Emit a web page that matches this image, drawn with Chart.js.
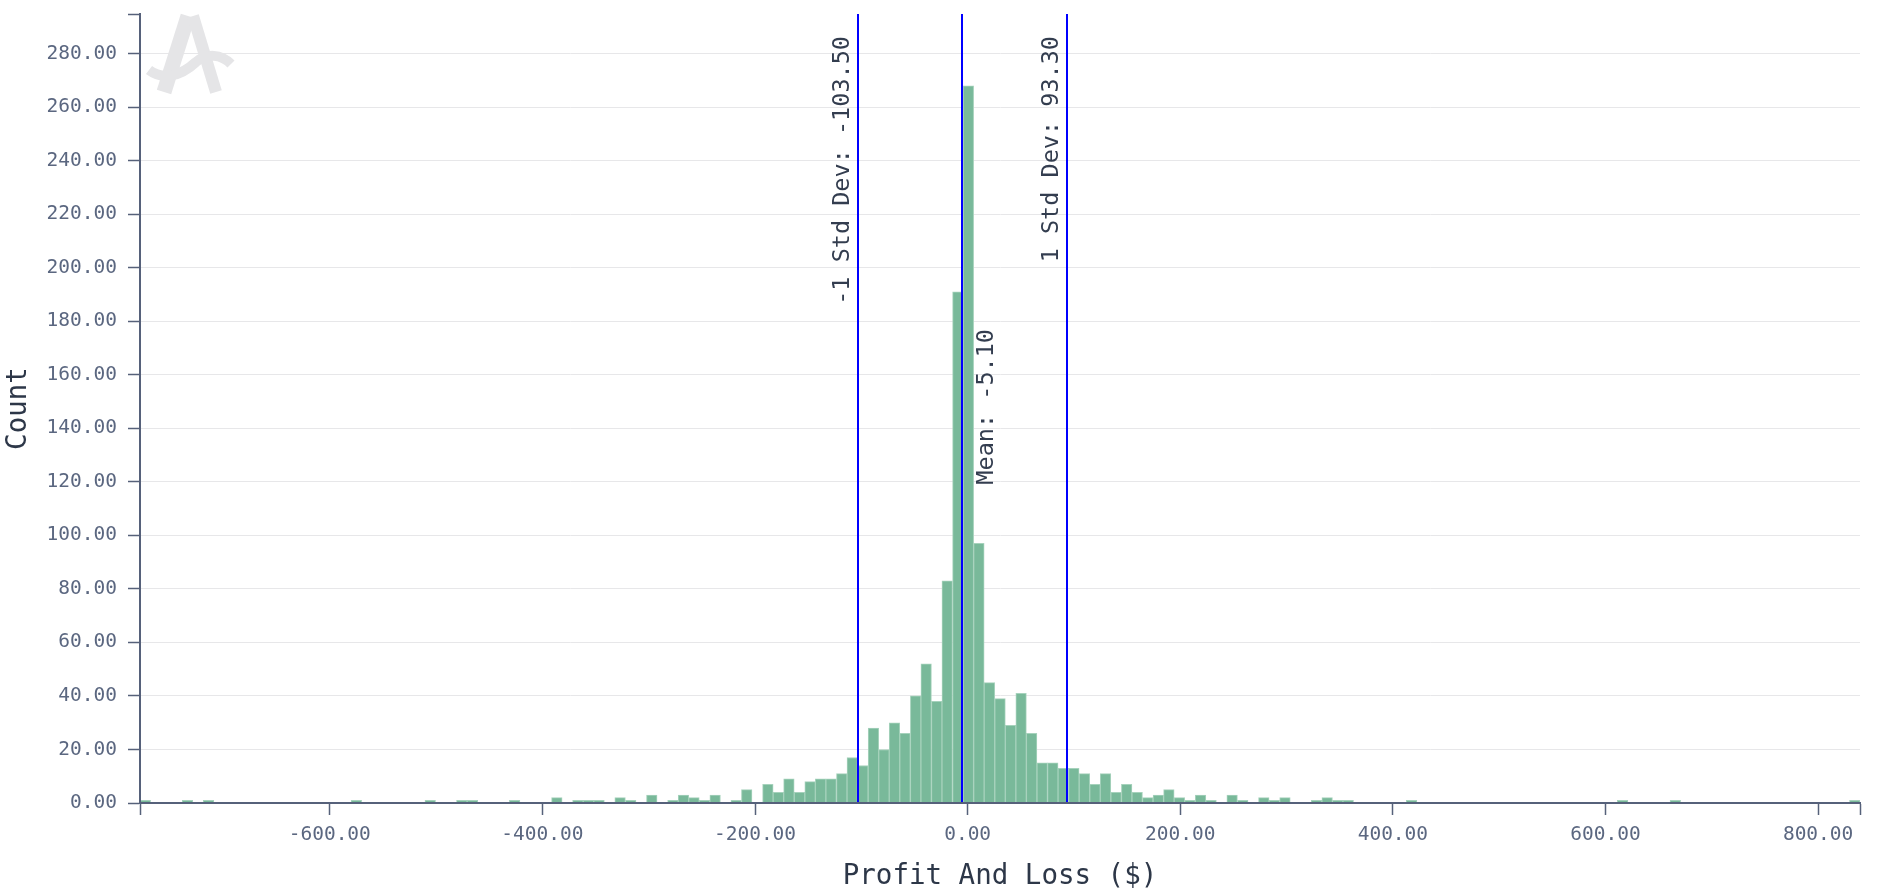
<!DOCTYPE html>
<html>
<head>
<meta charset="utf-8">
<script src="https://cdn.jsdelivr.net/npm/chart.js@4.4.1/dist/chart.umd.min.js"></script>
<style>
  html, body { margin: 0; padding: 0; background: #fff; }
  canvas { display: block; }
</style>
</head>
<body>
<canvas id="chart" width="1896" height="894"></canvas>
<script>
// histogram bins (centre of each non-empty bin) and their counts
const binCenters = [
  -773.5, -733.8, -714.0, -575.0, -505.5, -475.8, -465.8, -426.1, -386.4, -366.6,
  -356.6, -346.7, -326.9, -316.9, -297.1, -277.2, -267.3, -257.4, -247.5, -237.5,
  -217.7, -207.8, -187.9, -178.0, -168.1, -158.1, -148.2, -138.3, -128.4, -118.4,
  -108.5, -98.6, -88.6, -78.7, -68.8, -58.9, -48.9, -39.0, -29.1, -19.2,
  -9.2, 0.7, 10.6, 20.5, 30.5, 40.4, 50.3, 60.2, 70.2, 80.1,
  90.0, 99.9, 109.9, 119.8, 129.7, 139.7, 149.6, 159.5, 169.4, 179.4,
  189.3, 199.2, 209.1, 219.1, 229.0, 248.8, 258.8, 278.6, 288.5, 298.5,
  328.2, 338.2, 348.1, 358.0, 417.6, 616.1, 665.7, 834.5
];
const counts = [
  1, 1, 1, 1, 1, 1, 1, 1, 2, 1,
  1, 1, 2, 1, 3, 1, 3, 2, 1, 3,
  1, 5, 7, 4, 9, 4, 8, 9, 9, 11,
  17, 14, 28, 20, 30, 26, 40, 52, 38, 83,
  191, 268, 97, 45, 39, 29, 41, 26, 15, 15,
  13, 13, 11, 7, 11, 4, 7, 4, 2, 3,
  5, 2, 1, 3, 1, 3, 1, 2, 1, 2,
  1, 2, 1, 1, 1, 1, 1, 1
];

const xRange = [-778.5, 839.4];
const yMax = 294.8;
const xTickValues = [-600, -400, -200, 0, 200, 400, 600, 800];
const yTickValues = [0, 20, 40, 60, 80, 100, 120, 140, 160, 180, 200, 220, 240, 260, 280];

const markerValues = [-103.5, -5.1, 93.3];
const markerLabels = ['-1 Std Dev: -103.50', 'Mean: -5.10', '1 Std Dev: 93.30'];

const MONO = '"DejaVu Sans Mono", monospace';
const axisColor = '#56617a';
const tickText = '#5b6780';
const titleText = '#2d3748';

// label placement next to each line: dx from the line, y of the text end below the top
const markerPlace = [
  { dx: -9, endY: 22 },
  { dx: 31, endY: 315 },
  { dx: -9, endY: 22 }
];

const logoPlugin = {
  id: 'logo',
  beforeDatasetsDraw(chart) {
    const ctx = chart.ctx;
    ctx.save();
    ctx.strokeStyle = '#e5e5e7';
    ctx.lineCap = 'butt';
    ctx.lineWidth = 15;
    ctx.beginPath(); ctx.moveTo(188, 16); ctx.lineTo(164, 92); ctx.stroke();
    ctx.lineWidth = 12;
    ctx.beginPath(); ctx.moveTo(193, 16); ctx.lineTo(216, 92); ctx.stroke();
    ctx.lineWidth = 10;
    ctx.beginPath();
    ctx.moveTo(149, 70);
    ctx.bezierCurveTo(162, 80, 180, 77, 196, 62);
    ctx.bezierCurveTo(207, 53, 221, 54, 231, 64);
    ctx.stroke();
    ctx.restore();
  }
};

const markerPlugin = {
  id: 'markers',
  afterDatasetsDraw(chart) {
    const { ctx, chartArea: a, scales: { x } } = chart;
    ctx.save();
    markerValues.forEach((v, i) => {
      const px = Math.round(x.getPixelForValue(v));
      ctx.strokeStyle = '#0000ff';
      ctx.lineWidth = 2;
      ctx.beginPath();
      ctx.moveTo(px, a.top);
      ctx.lineTo(px, a.bottom);
      ctx.stroke();

      const p = markerPlace[i];
      ctx.save();
      ctx.translate(px + p.dx, a.top + p.endY);
      ctx.rotate(-Math.PI / 2);
      ctx.font = '23.5px ' + MONO;
      ctx.fillStyle = '#333d4f';
      ctx.textAlign = 'right';
      ctx.textBaseline = 'alphabetic';
      ctx.fillText(markerLabels[i], 0, 0);
      ctx.restore();
    });
    ctx.restore();
  }
};

new Chart(document.getElementById('chart'), {
  type: 'bar',
  data: {
    datasets: [{
      label: 'Count',
      data: binCenters.map((c, i) => ({ x: c, y: counts[i] })),
      backgroundColor: '#79b99a',
      borderColor: '#a6d2bc',
      borderWidth: 1,
      barPercentage: 1,
      categoryPercentage: 1
    }]
  },
  options: {
    responsive: false,
    animation: false,
    devicePixelRatio: 1,
    layout: { padding: { top: 14, right: 36, bottom: 0, left: 0 } },
    plugins: {
      legend: { display: false },
      tooltip: { enabled: false }
    },
    scales: {
      x: {
        type: 'linear',
        min: xRange[0],
        max: xRange[1],
        offset: false,
        afterBuildTicks: s => {
          s.ticks = [xRange[0], ...xTickValues, xRange[1]].map(v => ({ value: v }));
        },
        afterFit: s => { s.height = 91; s.paddingLeft = 0; s.paddingRight = 0; },
        grid: {
          offset: false,
          drawOnChartArea: false,
          drawTicks: true,
          tickLength: 12,
          tickColor: axisColor,
          tickWidth: 1.5
        },
        border: { display: true, color: axisColor, width: 2, z: 1 },
        ticks: {
          autoSkip: false,
          maxRotation: 0,
          padding: 8,
          color: tickText,
          font: { family: MONO, size: 19.5 },
          callback: v => xTickValues.includes(v) ? v.toFixed(2) : ''
        },
        title: {
          display: true,
          text: 'Profit And Loss ($)',
          color: titleText,
          font: { family: MONO, size: 27.5 },
          padding: { top: 0, bottom: 1 }
        }
      },
      y: {
        min: 0,
        max: yMax,
        afterBuildTicks: s => {
          s.ticks = [...yTickValues, yMax].map(v => ({ value: v }));
        },
        afterFit: s => { s.width = 140; s.paddingTop = 0; s.paddingBottom = 0; },
        grid: {
          color: ctx => (ctx.tick && ctx.tick.value === yMax) ? 'rgba(0,0,0,0)' : '#e7e7e9',
          lineWidth: 1,
          tickLength: 12,
          tickColor: axisColor,
          tickWidth: 1.5
        },
        border: { display: true, color: axisColor, width: 2, z: 1 },
        ticks: {
          padding: 11,
          color: tickText,
          font: { family: MONO, size: 19.5 },
          callback: v => yTickValues.includes(v) ? v.toFixed(2) : ''
        },
        title: {
          display: true,
          text: 'Count',
          color: titleText,
          font: { family: MONO, size: 27.5 },
          padding: { top: 2, bottom: 0 }
        }
      }
    }
  },
  plugins: [logoPlugin, markerPlugin]
});
</script>
</body>
</html>
